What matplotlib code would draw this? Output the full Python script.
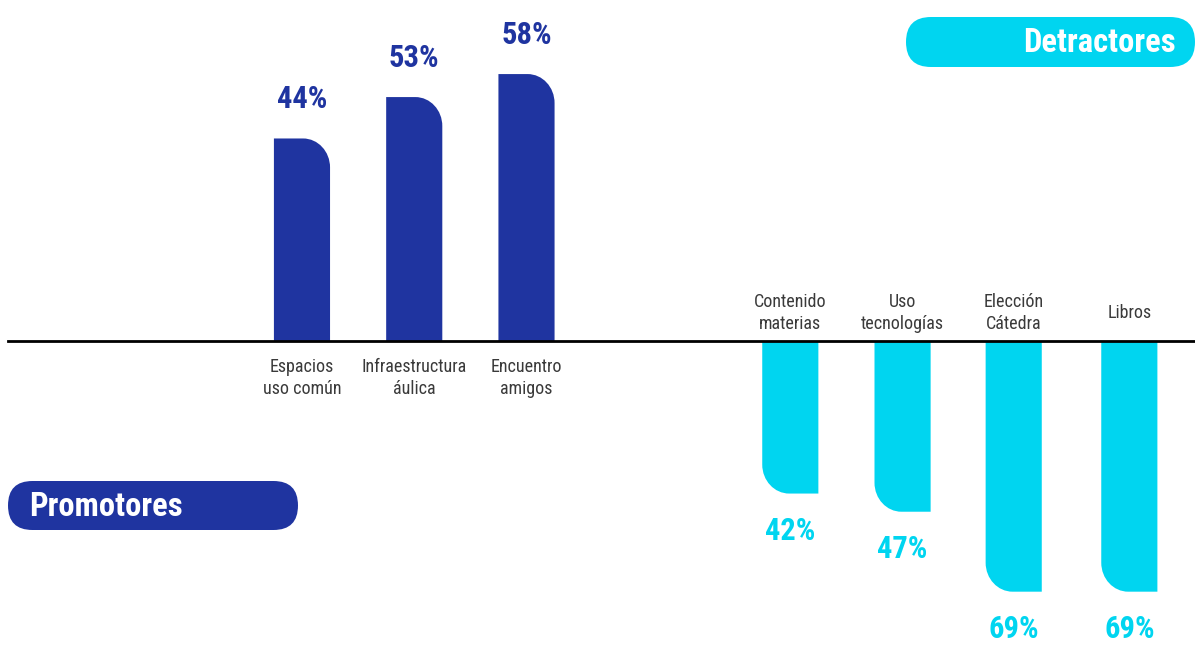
import matplotlib
matplotlib.use('Agg')
import matplotlib.pyplot as plt
from matplotlib.path import Path
from matplotlib.patches import PathPatch, FancyBboxPatch

plt.rcParams['font.family'] = ['Roboto Condensed', 'Liberation Sans Narrow', 'Roboto', 'DejaVu Sans']

# DATOS
prom_labels = ['Espacios\nuso común', 'Infraestructura\náulica', 'Encuentro\namigos']
prom_values = [44, 53, 58]
det_labels = ['Contenido\nmaterias', 'Uso\ntecnologías', 'Elección\nCátedra', 'Libros']
det_values = [42, 47, 69, 69]

AZUL = '#1f34a0'
CELESTE = '#00d5f0'
GRIS = '#3a3a3a'

DET_ESCALA = 0.79   # los detractores estan dibujados a otra escala en el original
ANCHO = 0.5
K = 0.5523

prom_x = [0, 1, 2]
det_x = [4.35, 5.35, 6.34, 7.37]


def barra(ax, x, h, color, arriba=True):
    x0, x1 = x - ANCHO / 2, x + ANCHO / 2
    rx, ry = 0.24, 6.3
    if arriba:
        # esquina superior derecha redondeada
        verts = [(x0, 0), (x0, h), (x1 - rx, h),
                 (x1 - rx + K * rx, h), (x1, h - ry + K * ry), (x1, h - ry),
                 (x1, 0), (x0, 0)]
    else:
        # esquina inferior izquierda redondeada
        verts = [(x1, 0), (x1, h), (x0 + rx, h),
                 (x0 + rx - K * rx, h), (x0, h + ry - K * ry), (x0, h + ry),
                 (x0, 0), (x1, 0)]
    codes = [Path.MOVETO, Path.LINETO, Path.LINETO,
             Path.CURVE4, Path.CURVE4, Path.CURVE4,
             Path.LINETO, Path.CLOSEPOLY]
    ax.add_patch(PathPatch(Path(verts, codes), facecolor=color, edgecolor='none'))


fig = plt.figure(figsize=(11.95, 6.45), dpi=100)
ax = fig.add_axes([0, 0, 1, 1])
ax.set_xlim(-2.69, 7.955)
ax.set_ylim(-66.1, 74.1)
ax.axis('off')

for x, v, lab in zip(prom_x, prom_values, prom_labels):
    barra(ax, x, v, AZUL, True)
    ax.text(x, v + 8.5, f'{v}%', ha='center', va='center', fontsize=22,
            fontweight='bold', color=AZUL)
    ax.text(x, -8.0, lab, ha='center', va='center', fontsize=13, color=GRIS,
            linespacing=1.3)

for x, v, lab in zip(det_x, det_values, det_labels):
    h = -v * DET_ESCALA
    barra(ax, x, h, CELESTE, False)
    ax.text(x, h - 8.1, f'{v}%', ha='center', va='center', fontsize=22,
            fontweight='bold', color=CELESTE)
    ax.text(x, 6.1, lab, ha='center', va='center', fontsize=13, color=GRIS,
            linespacing=1.3)

ax.axhline(0, xmin=0.007, xmax=1, color='black', lw=2)

# etiquetas tipo pildora en pixeles
ov = fig.add_axes([0, 0, 1, 1])
ov.set_xlim(0, 1195)
ov.set_ylim(645, 0)
ov.axis('off')
ov.patch.set_alpha(0)

ov.add_patch(FancyBboxPatch((8, 481), 290, 49,
                            boxstyle='round,pad=0,rounding_size=24.5',
                            facecolor=AZUL, edgecolor='none'))
ov.text(29, 507, 'Promotores', ha='left', va='center', fontsize=23.5,
        fontweight='bold', color='white')

ov.add_patch(FancyBboxPatch((906, 17), 289, 50,
                            boxstyle='round,pad=0,rounding_size=25',
                            facecolor=CELESTE, edgecolor='none'))
ov.text(1176, 43, 'Detractores', ha='right', va='center', fontsize=23.5,
        fontweight='bold', color='white')

fig.savefig('out.png', dpi=100)
